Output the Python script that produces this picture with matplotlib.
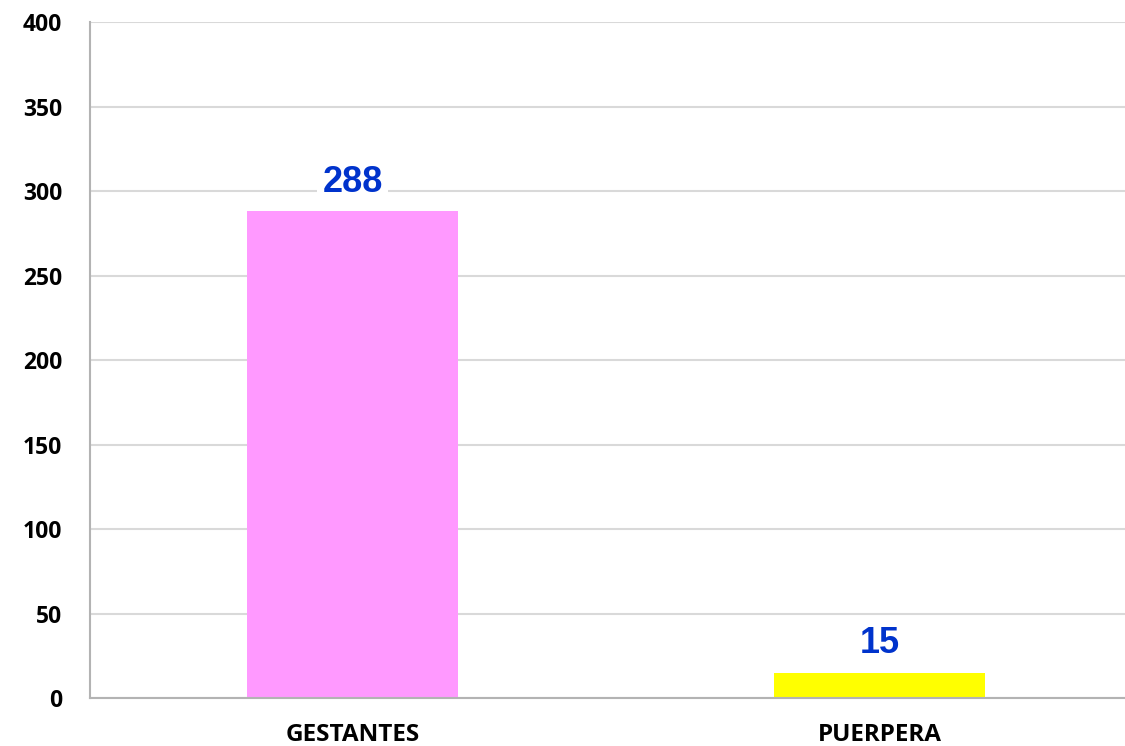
import matplotlib
matplotlib.use("Agg")
import matplotlib.pyplot as plt

categorias = ["GESTANTES", "PUERPERA"]
valores = [288, 15]
colores = ["#ff99ff", "#ffff00"]
yticks = [0, 50, 100, 150, 200, 250, 300, 350, 400]

fig = plt.figure(figsize=(11.25, 7.46), dpi=100)
ax = fig.add_axes([0.08, 0.0643, 0.92, 0.9062])

x = list(range(len(categorias)))
barras = ax.bar(x, valores, width=0.40, color=colores, zorder=2)

ax.set_ylim(0, 400)
ax.set_xlim(-0.498, 1.466)
ax.set_yticks(yticks)
ax.set_xticks(x)
ax.set_xticklabels(categorias)
ax.yaxis.grid(True, color="#d9d9d9", linewidth=1.5, zorder=0)
ax.set_axisbelow(True)

for lado in ("top", "right"):
    ax.spines[lado].set_visible(False)
for lado in ("left", "bottom"):
    ax.spines[lado].set_color("#b3b3b3")
    ax.spines[lado].set_linewidth(1.5)

ax.tick_params(axis="y", length=0, pad=20)
ax.tick_params(axis="x", length=0, pad=18)
for t in ax.get_yticklabels():
    t.set_fontfamily("Open Sans")
    t.set_fontweight("bold")
    t.set_fontsize(16.5)
for t in ax.get_xticklabels():
    t.set_fontfamily("Open Sans")
    t.set_fontweight("bold")
    t.set_fontsize(17.5)

for b, v in zip(barras, valores):
    ax.annotate(str(v), (b.get_x() + b.get_width() / 2, v),
                xytext=(0, 14), textcoords="offset points",
                ha="center", va="baseline", fontsize=26, fontweight="bold",
                family="Liberation Sans", color="#0033cc", zorder=3,
                bbox=dict(facecolor="white", edgecolor="none", pad=4))

fig.savefig("out.png", dpi=100)
